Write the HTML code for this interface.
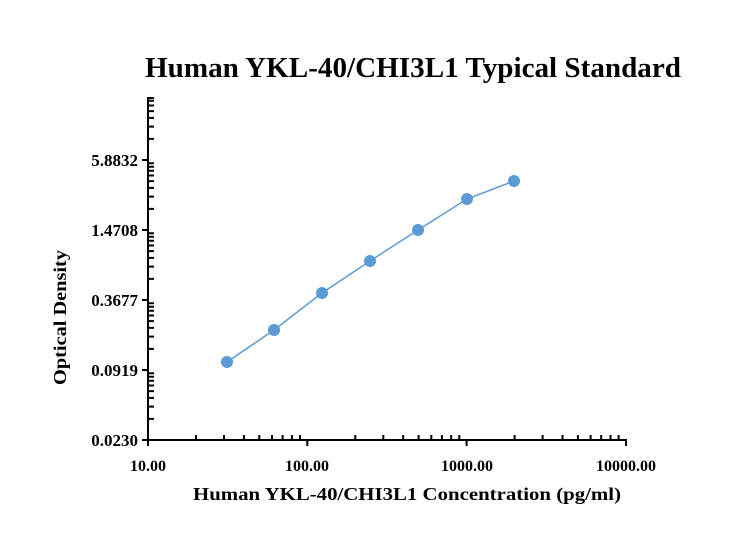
<!DOCTYPE html>
<html><head><meta charset="utf-8"><style>body{margin:0;background:#fff}</style></head><body>
<svg width="737" height="553" xmlns="http://www.w3.org/2000/svg" font-family="Liberation Serif, serif" font-weight="bold">
<rect width="737" height="553" fill="#fff"/>
<text x="145" y="77" font-size="28" textLength="536" lengthAdjust="spacingAndGlyphs">Human YKL-40/CHI3L1 Typical Standard</text>
<g stroke="#000" stroke-width="2" fill="none">
<line x1="148" y1="97" x2="148" y2="441"/><line x1="147" y1="440" x2="627" y2="440"/>
<path d="M142 440H148M142 370H148M142 300H148M142 230H148M142 160H148"/>
<path d="M148 418.9h6M148 406.6h6M148 397.9h6M148 391.1h6M148 385.5h6M148 380.8h6M148 376.8h6M148 373.2h6
M148 348.9h6M148 336.6h6M148 327.9h6M148 321.1h6M148 315.5h6M148 310.8h6M148 306.8h6M148 303.2h6
M148 278.9h6M148 266.6h6M148 257.9h6M148 251.1h6M148 245.5h6M148 240.8h6M148 236.8h6M148 233.2h6
M148 208.9h6M148 196.6h6M148 187.9h6M148 181.1h6M148 175.5h6M148 170.8h6M148 166.8h6M148 163.2h6
M148 138.9h6M148 126.6h6M148 117.9h6M148 111.1h6M148 105.5h6M148 100.8h6M148 98h6"/>
<path d="M148 440v6M307.3 440v6M466.6 440v6M626 440v6"/>
<path d="M196 435v5M224 435v5M243.9 435v5M259.3 435v5M272 435v5M282.6 435v5M291.9 435v5M300 435v5
M355.3 435v5M383.3 435v5M403.2 435v5M418.6 435v5M431.3 435v5M441.9 435v5M451.2 435v5M459.3 435v5
M514.6 435v5M542.6 435v5M562.5 435v5M577.9 435v5M590.6 435v5M601.2 435v5M610.5 435v5M618.6 435v5"/>
</g>
<polyline fill="none" stroke="#5b9bd5" stroke-width="1.5" points="227,362 274,330 322,293 370,261 418,230 467,199 514,181"/>
<g fill="#5b9bd5"><circle cx="227" cy="362" r="6"/><circle cx="274" cy="330" r="6"/><circle cx="322" cy="293" r="6"/><circle cx="370" cy="261" r="6"/><circle cx="418" cy="230" r="6"/><circle cx="467" cy="199" r="6"/><circle cx="514" cy="181" r="6"/></g>
<g font-size="17" text-anchor="end">
<text x="138" y="446">0.0230</text><text x="138" y="376">0.0919</text><text x="138" y="306">0.3677</text><text x="138" y="236">1.4708</text><text x="138" y="166">5.8832</text></g>
<g font-size="16" text-anchor="middle">
<text x="148" y="471">10.00</text><text x="307" y="471">100.00</text><text x="467" y="471">1000.00</text><text x="626" y="471">10000.00</text></g>
<text x="193" y="500" font-size="18" textLength="428" lengthAdjust="spacingAndGlyphs">Human YKL-40/CHI3L1 Concentration (pg/ml)</text>
<text transform="translate(66,385) rotate(-90)" font-size="18" textLength="135" lengthAdjust="spacingAndGlyphs">Optical Density</text>
</svg>
</body></html>
